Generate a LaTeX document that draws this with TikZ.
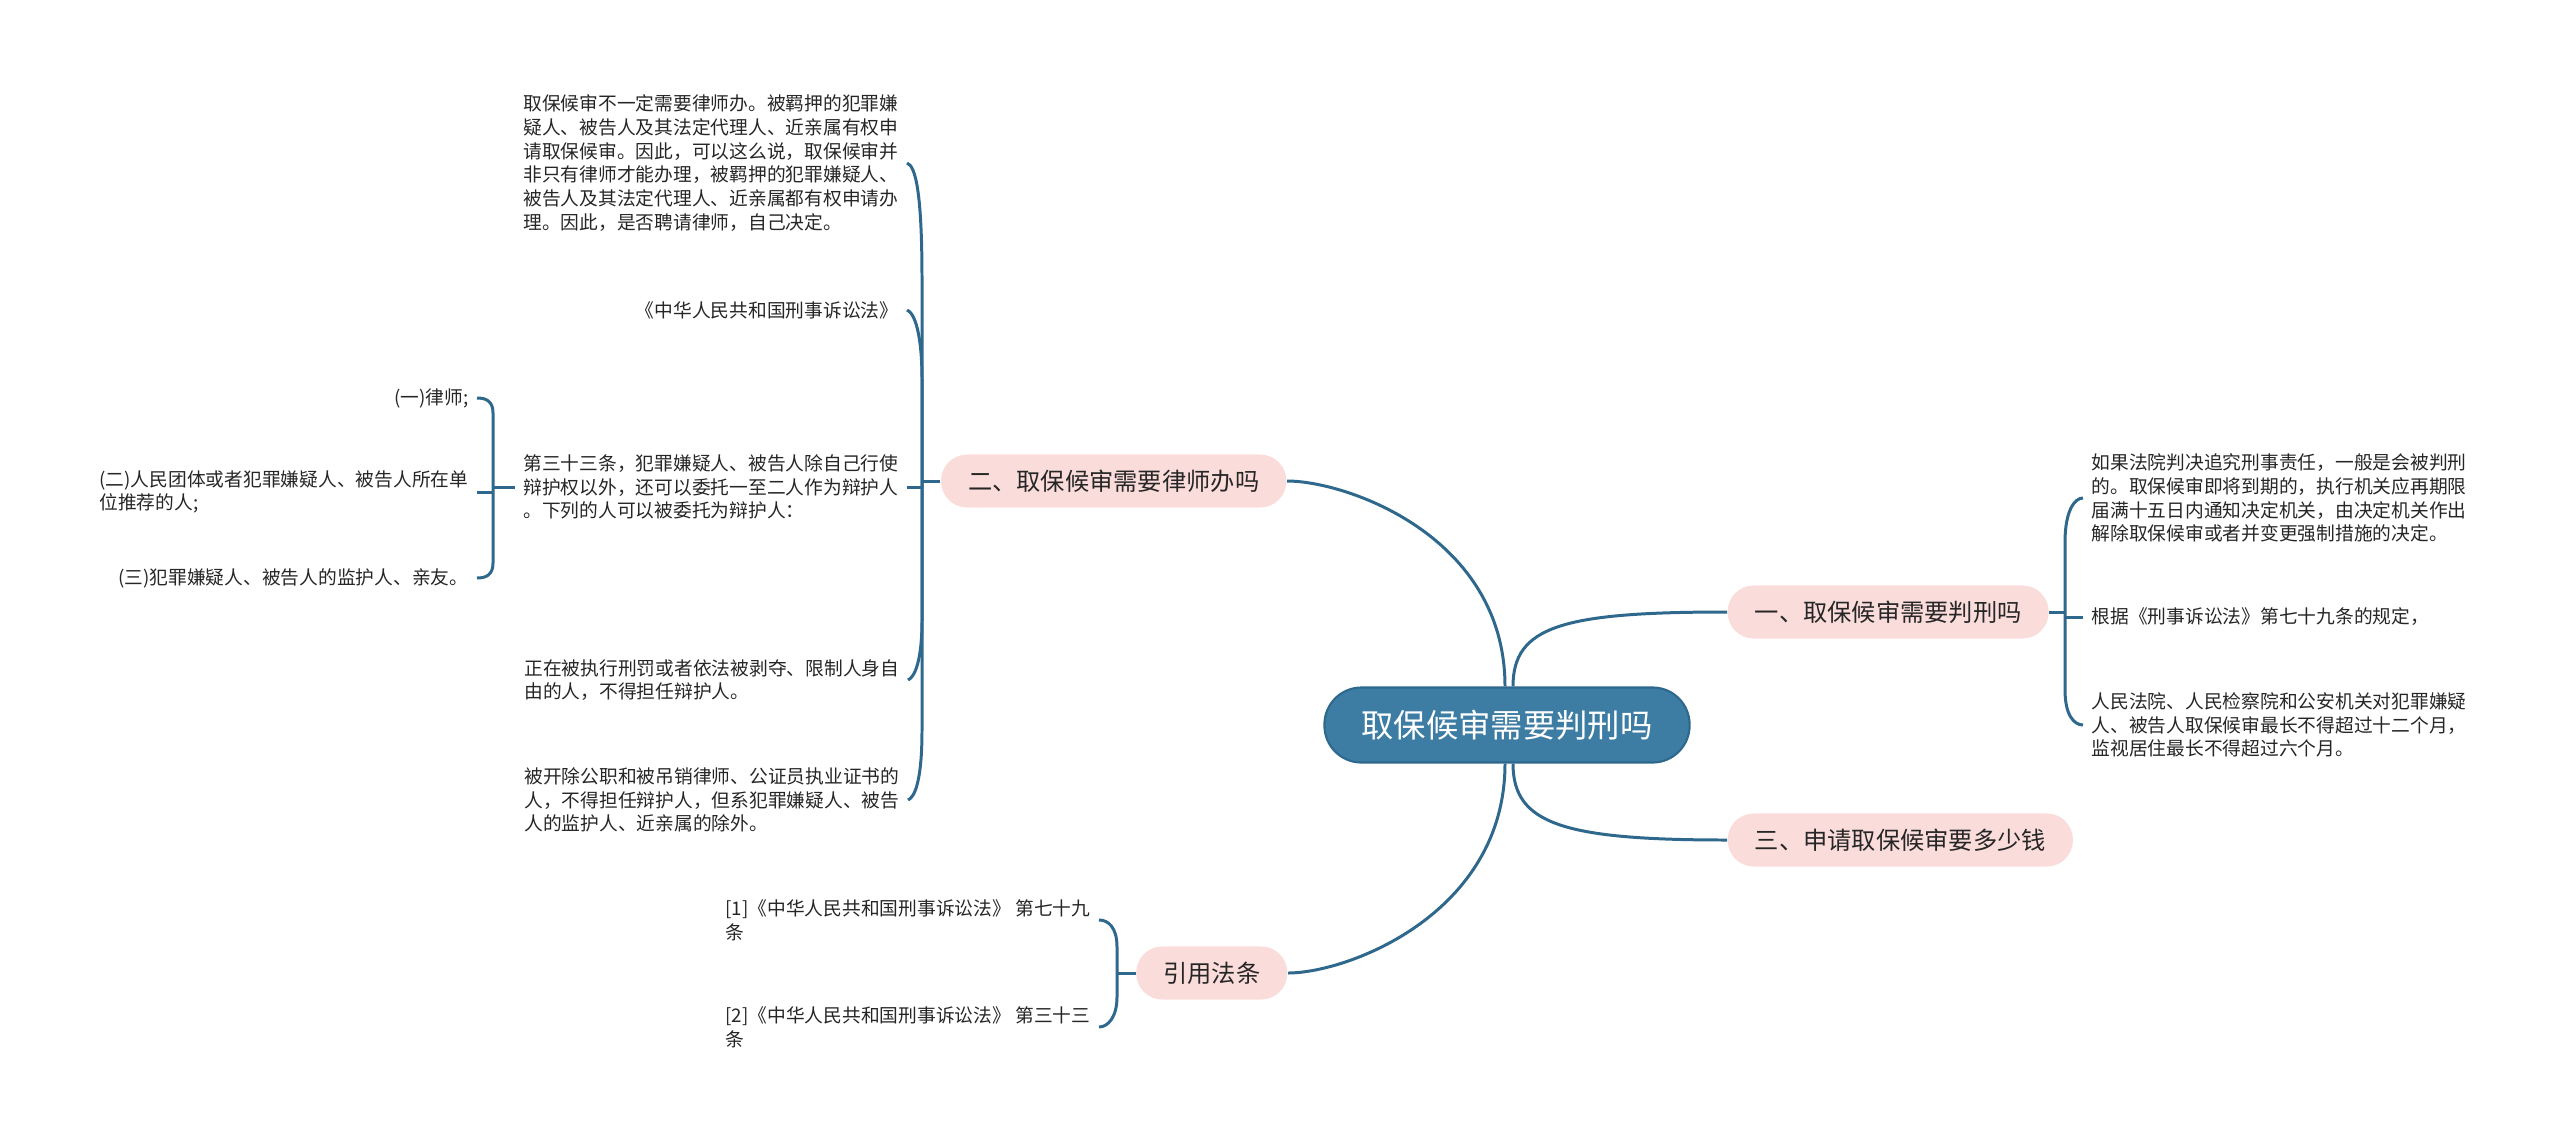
\documentclass[tikz,border=0pt]{standalone}
\usepackage{fontspec}
\setmainfont{Noto Sans CJK SC}
\definecolor{rootblue}{RGB}{61,124,163}
\definecolor{linkblue}{RGB}{46,104,140}
\definecolor{topicpink}{RGB}{250,221,219}
\definecolor{inkgray}{RGB}{38,38,38}
\tikzset{
  rootbox/.style={fill=rootblue,draw=linkblue,line width=0.6pt,rounded corners=0.37cm,minimum height=0.75cm,inner xsep=0.37cm,text=white,font=\fontsize{9.2pt}{11pt}\selectfont},
  topic/.style={fill=topicpink,rounded corners=0.26cm,minimum height=0.53cm,inner xsep=0.27cm,text=inkgray,font=\fontsize{6.9pt}{8pt}\selectfont},
  note/.style={align=left,inner xsep=0.08cm,inner ysep=0.03cm,text=inkgray,font=\fontsize{5.33pt}{6.75pt}\selectfont},
  link/.style={draw=linkblue,line width=0.85pt}
}
\begin{document}
\begin{tikzpicture}[x=0.01cm,y=-0.01cm]
  \useasboundingbox (0,0) rectangle (2560,1139);

  % centre and main topics
  \node[rootbox] (root) at (1507,725) {取保候审需要判刑吗};
  \node[topic,anchor=east] (lawyer) at (1287,481) {二、取保候审需要律师办吗};
  \node[topic,anchor=west] (sentence) at (1727,612) {一、取保候审需要判刑吗};
  \node[topic,anchor=west] (cost) at (1727,840) {三、申请取保候审要多少钱};
  \node[topic,anchor=east] (cite) at (1288,973) {引用法条};

  \draw[link] ([xshift=-0.02cm]root.north) .. controls +(0,-150) and +(60,0) .. (lawyer.east);
  \draw[link] ([xshift=-0.02cm]root.south) .. controls +(0,150) and +(60,0) .. (cite.east);
  \draw[link] ([xshift=0.06cm]root.north) .. controls +(0,-60) and +(-165,0) .. (sentence.west);
  \draw[link] ([xshift=0.06cm]root.south) .. controls +(0,60) and +(-165,0) .. (cost.west);

  % notes of topic two
  \node[note,anchor=east] (l1) at (907,163) {取保候审不一定需要律师办。被羁押的犯罪嫌\\疑人、被告人及其法定代理人、近亲属有权申\\请取保候审。因此，可以这么说，取保候审并\\非只有律师才能办理，被羁押的犯罪嫌疑人、\\被告人及其法定代理人、近亲属都有权申请办\\理。因此，是否聘请律师，自己决定。};
  \node[note,anchor=east] (l2) at (907,310) {《中华人民共和国刑事诉讼法》};
  \node[note,anchor=east] (l3) at (907,487) {第三十三条，犯罪嫌疑人、被告人除自己行使\\辩护权以外，还可以委托一至二人作为辩护人\\。下列的人可以被委托为辩护人：};
  \node[note,anchor=east] (l4) at (908,680) {正在被执行刑罚或者依法被剥夺、限制人身自\\由的人，不得担任辩护人。};
  \node[note,anchor=east] (l5) at (908,800) {被开除公职和被吊销律师、公证员执业证书的\\人，不得担任辩护人，但系犯罪嫌疑人、被告\\人的监护人、近亲属的除外。};

  \coordinate (j2) at (922,481);
  \draw[link] (lawyer.west) -- (j2);
  \draw[link] (j2) -- ++(0,-201) .. controls +(0,-85) and +(9,3) .. (l1.east);
  \draw[link] (j2) -- ++(0,-101) .. controls +(0,-45) and +(8,3) .. (l2.east);
  \draw[link] (j2 |- l3.east) -- (l3.east);
  \draw[link] (j2) -- ++(0,139) .. controls +(0,40) and +(7,-3) .. (l4.east);
  \draw[link] (j2) -- ++(0,249) .. controls +(0,50) and +(7,-3) .. (l5.east);

  % who may be entrusted
  \node[note,anchor=east] (s1) at (477,398) {(一)律师;};
  \node[note,anchor=east] (s2) at (477,492) {(二)人民团体或者犯罪嫌疑人、被告人所在单\\位推荐的人;};
  \node[note,anchor=east] (s3) at (477,578) {(三)犯罪嫌疑人、被告人的监护人、亲友。};

  \coordinate (j3) at (493,487);
  \draw[link] (l3.west) -- (j3);
  \draw[link] (j3) -- ++(0,-74) .. controls +(0,-12) and +(9,0) .. (s1.east);
  \draw[link] (s2.east -| j3) -- (s2.east);
  \draw[link] (j3) -- ++(0,76) .. controls +(0,12) and +(9,0) .. (s3.east);

  % notes of topic one
  \node[note,anchor=west] (r1) at (2083,498) {如果法院判决追究刑事责任，一般是会被判刑\\的。取保候审即将到期的，执行机关应再期限\\届满十五日内通知决定机关，由决定机关作出\\解除取保候审或者并变更强制措施的决定。};
  \node[note,anchor=west] (r2) at (2083,617) {根据《刑事诉讼法》第七十九条的规定，};
  \node[note,anchor=west] (r3) at (2083,725) {人民法院、人民检察院和公安机关对犯罪嫌疑\\人、被告人取保候审最长不得超过十二个月，\\监视居住最长不得超过六个月。};

  \coordinate (j1) at (2065,612);
  \draw[link] (sentence.east) -- (j1);
  \draw[link] (j1) -- ++(0,-70) .. controls +(0,-30) and +(-9,0) .. (r1.west);
  \draw[link] (j1 |- r2.west) -- (r2.west);
  \draw[link] (j1) -- ++(0,78) .. controls +(0,25) and +(-9,0) .. (r3.west);

  % cited articles
  \node[note,anchor=east] (c1) at (1099,920) {[1]《中华人民共和国刑事诉讼法》 第七十九\\条};
  \node[note,anchor=east] (c2) at (1099,1027) {[2]《中华人民共和国刑事诉讼法》 第三十三\\条};

  \coordinate (j4) at (1117,973);
  \draw[link] (cite.west) -- (j4);
  \draw[link] (j4) -- ++(0,-26) .. controls +(0,-20) and +(9,0) .. (c1.east);
  \draw[link] (j4) -- ++(0,24) .. controls +(0,20) and +(9,0) .. (c2.east);
\end{tikzpicture}
\end{document}
